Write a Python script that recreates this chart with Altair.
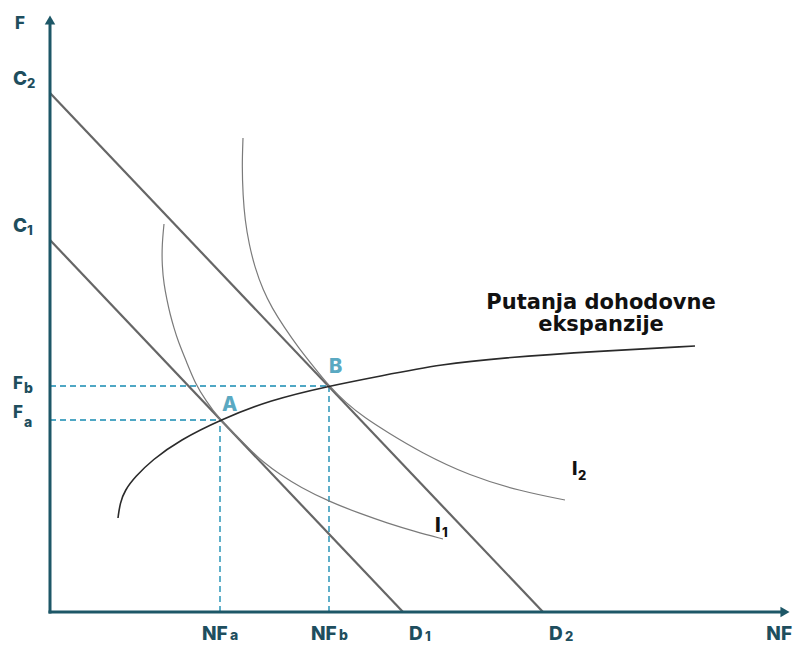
import altair as alt
import pandas as pd

# ---------------- data ----------------
NF_MAX = 740   # extent of the NF axis
F_MAX = 597    # extent of the F axis

# budget lines: F-intercepts (C) and NF-intercepts (D)
budget_names = ["1", "2"]
budget_c = [372, 519]
budget_d = [353, 493]

# optimum points
point_names = ["A", "B"]
point_nf = [170, 279]
point_f = [192, 226]

# income expansion path
path_nf = [68, 70, 75, 85, 102, 130, 170, 220, 279, 330, 393, 450, 550, 645]
path_f = [94, 109, 122, 135, 152, 172, 192, 212, 226, 236, 248, 254, 261, 266]

# indifference curve I1
i1_nf = [114, 112, 112, 114, 117, 120, 124, 128, 137, 145, 156, 170, 185, 200,
         213, 230, 250, 280, 310, 337, 365, 393]
i1_f = [388, 367, 347, 327, 312, 298, 284, 271, 249, 229, 211, 192, 177.5, 162.5,
        150, 137.5, 125, 110, 98.5, 89, 80.5, 73]

# indifference curve I2
i2_nf = [193, 192, 193, 195, 199, 205, 213, 222, 234, 248, 263, 279, 296, 315,
         337, 370, 420, 470, 515]
i2_f = [474, 446, 416, 392, 368, 344, 322, 304, 285, 265, 246, 226, 209, 194,
        180, 160, 136, 121, 112]

path_title = ["Putanja dohodovne", "ekspanzije"]

# ---------------- styling ----------------
FONT = "Inter"
TITLE_FONT = "DejaVu Sans"
TEAL = "#1e4e5e"
AXIS = "#1d5767"
DASH = "#4fa7c4"
PTLBL = "#5aa9c2"

xs = alt.Scale(domain=[0, NF_MAX], nice=False, zero=False)
ys = alt.Scale(domain=[0, F_MAX], nice=False, zero=False)


def X(f="x"):
    return alt.X(f"{f}:Q", scale=xs, axis=None)


def Y(f="y"):
    return alt.Y(f"{f}:Q", scale=ys, axis=None)


layers = []

# dashed guide lines to A and B
guides = []
for n, x, y in zip(point_names, point_nf, point_f):
    guides.append({"x": 0, "x2": x, "y": y, "y2": y})
    guides.append({"x": x, "x2": x, "y": 0, "y2": y})
layers.append(
    alt.Chart(pd.DataFrame(guides))
    .mark_rule(color=DASH, strokeWidth=1.8, strokeDash=[6, 4])
    .encode(x=X(), x2="x2:Q", y=Y(), y2="y2:Q")
)

# budget lines
bl = pd.DataFrame({"x": [0] * 2, "y": budget_c, "x2": budget_d, "y2": [0] * 2})
layers.append(
    alt.Chart(bl)
    .mark_rule(color="#666666", strokeWidth=2.2)
    .encode(x=X(), y=Y(), x2="x2:Q", y2="y2:Q")
)


def curve(nf, f, color, width):
    df = pd.DataFrame({"x": nf, "y": f, "o": list(range(len(nf)))})
    return (
        alt.Chart(df)
        .mark_line(color=color, strokeWidth=width, interpolate="basis")
        .encode(x=X(), y=Y(), order="o:Q")
    )


layers.append(curve(i1_nf, i1_f, "#7a7a7a", 1.2))
layers.append(curve(i2_nf, i2_f, "#7a7a7a", 1.2))
layers.append(curve(path_nf, path_f, "#2a2a2a", 1.6))

# axes with arrows
layers.append(
    alt.Chart(pd.DataFrame({"x": [0], "x2": [NF_MAX - 6], "y": [0]}))
    .mark_rule(color=AXIS, strokeWidth=3, strokeCap="square")
    .encode(x=X(), x2="x2:Q", y=Y())
)
layers.append(
    alt.Chart(pd.DataFrame({"x": [0], "y": [0], "y2": [F_MAX - 6]}))
    .mark_rule(color=AXIS, strokeWidth=3, strokeCap="square")
    .encode(x=X(), y=Y(), y2="y2:Q")
)
layers.append(
    alt.Chart(pd.DataFrame({"x": [0], "y": [F_MAX]}))
    .mark_point(shape="triangle-up", size=110, filled=True, color=AXIS, opacity=1, yOffset=5)
    .encode(x=X(), y=Y())
)
layers.append(
    alt.Chart(pd.DataFrame({"x": [NF_MAX], "y": [0]}))
    .mark_point(shape="triangle-right", size=110, filled=True, color=AXIS, opacity=1, xOffset=-5)
    .encode(x=X(), y=Y())
)


def label(text, x, y, dx, dy, size, color=TEAL, align="left", font=FONT, weight=800):
    df = pd.DataFrame({"x": [x], "y": [y], "t": [text]})
    return (
        alt.Chart(df)
        .mark_text(dx=dx, dy=dy, fontSize=size, font=font, fontWeight=weight,
                   color=color, align=align, baseline="alphabetic")
        .encode(x=X(), y=Y(), text="t:N")
    )


# axis titles
layers.append(label("F", 0, F_MAX, -35, 14, 17))
layers.append(label("NF", NF_MAX, 0, 2, 28, 19, align="right"))

# F-axis labels (C1, C2)
for n, c in zip(budget_names, budget_c):
    layers.append(label("C", 0, c, -37, -8, 19))
    layers.append(label(n, 0, c, -23, -5, 13))
# NF-axis labels (D1, D2)
for n, d in zip(budget_names, budget_d):
    layers.append(label("D", d, 0, 6, 28, 19))
    layers.append(label(n, d, 0, 22, 29, 13))

# Fa, Fb, NFa, NFb and point labels
pt_dy = {"A": (-2, 7), "B": (3, 7)}
for n, x, y in zip(point_names, point_nf, point_f):
    low = n.lower()
    a, b = pt_dy[n]
    layers.append(label("F", 0, y, -37, a, 17))
    layers.append(label(low, 0, y, -26, b, 14))
    layers.append(label("NF", x, 0, -18, 28, 19))
    layers.append(label(low, x, 0, 10, 28, 14))
    layers.append(label(n, x, y, 2 if n == "A" else 0, -9 if n == "A" else -13, 20, color=PTLBL))

# indifference curve labels
layers.append(label("I", i1_nf[-1], i1_f[-1], -8, -7, 20, color="#111111"))
layers.append(label("1", i1_nf[-1], i1_f[-1], -1, -2, 13, color="#111111"))
layers.append(label("I", i2_nf[-1], i2_f[-1], 7, -25, 19, color="#111111"))
layers.append(label("2", i2_nf[-1], i2_f[-1], 13, -20, 13, color="#111111"))

# expansion path label
layers.append(label(path_title[0], path_nf[-1], path_f[-1], -94, -37, 21,
                    color="#111111", align="center", font=TITLE_FONT, weight="bold"))
layers.append(label(path_title[1], path_nf[-1], path_f[-1], -94, -15, 21,
                    color="#111111", align="center", font=TITLE_FONT, weight="bold"))

chart = (
    alt.layer(*layers)
    .properties(
        width=NF_MAX,
        height=F_MAX,
        padding={"left": 42, "top": 7, "right": 3, "bottom": 33},
        autosize=alt.AutoSizeParams(type="none"),
        background="white",
    )
    .configure_view(stroke=None)
)

chart.save("out.html", embed_options={"renderer": "svg", "actions": False})
